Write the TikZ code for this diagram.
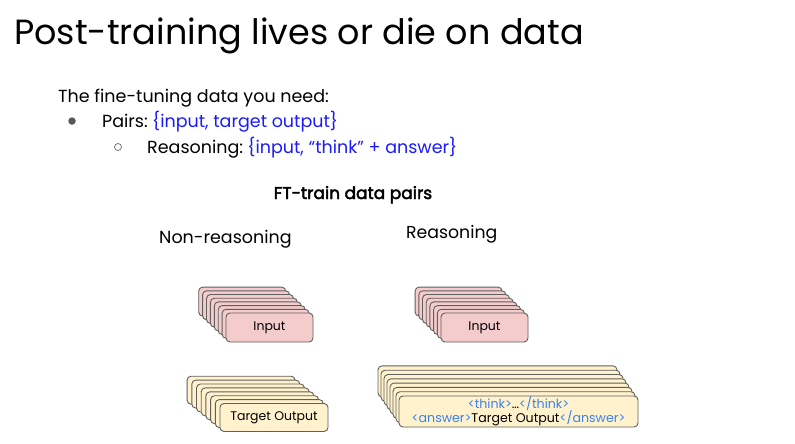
\documentclass[tikz,border=0pt]{standalone}
\usepackage{fontspec}
\setmainfont{Poppins}
\newcommand{\semibold}[1]{\special{pdf:literal direct 2 Tr 0.45 w}#1\special{pdf:literal direct 0 Tr}}
\definecolor{pinkfill}{HTML}{F4CCCC}
\definecolor{yelfill}{HTML}{FFF2CC}
\definecolor{cardline}{HTML}{5F5F5F}
\definecolor{bulletblue}{HTML}{1A1AFF}
\definecolor{tagblue}{HTML}{3C82EB}
\tikzset{
  card/.style={draw=cardline, line width=0.9pt, rounded corners=4pt, inner sep=0pt, font=\fontsize{12.5}{14}\selectfont},
  pinkcard/.style={card, fill=pinkfill},
  yelcard/.style={card, fill=yelfill},
  plain/.style={inner sep=0pt, anchor=base west},
  bodytext/.style={plain, font=\fontsize{17.5}{20}\selectfont},
}
\newcommand{\stackcards}[8]{% #1 prefix, #2 style, #3 cx, #4 cy, #5 w, #6 h, #7 dx, #8 dy
  \foreach \i in {7,6,...,1}{
    \node[#2, minimum width=#5pt, minimum height=#6pt] (#1\i) at ({#3-\i*#7},{#4-\i*#8}) {};
  }
}
\begin{document}
\begin{tikzpicture}[x=1pt,y=-1pt]
\useasboundingbox (0,0) rectangle (795,444);
% title
\node[plain, font=\fontsize{35}{38}\selectfont] (title) at (14,45) {Post-training lives or die on data};
% bullets
\node[bodytext] (intro) at (58,102) {The fine-tuning data you need:};
\node[circle, fill=black!65, minimum size=7.5pt, inner sep=0pt] (b1) at (72,121) {};
\node[bodytext] (pairs) at (102,127) {Pairs:\hspace{0.25em}\textcolor{bulletblue}{\{input, target output\}}};
\node[circle, draw=black!60, line width=0.7pt, minimum size=7pt, inner sep=0pt] (b2) at (118,147) {};
\node[bodytext] (reas) at (147,153) {Reasoning:\hspace{0.25em}\textcolor{bulletblue}{\{input, “think” + answer\}}};
% headings
\node[inner sep=0pt, anchor=base, font=\fontsize{17}{19}\selectfont] (ft) at (353,199) {\semibold{FT-train data pairs}};
\node[plain, font=\fontsize{17.5}{20}\selectfont] (nrh) at (159,243) {Non-reasoning};
\node[plain, font=\fontsize{17.3}{20}\selectfont] (rh) at (406,238) {Reasoning};
% non-reasoning input stack
\stackcards{nri}{pinkcard}{269.5}{327.5}{87}{29}{3.9}{3.7}
\node[pinkcard, minimum width=87pt, minimum height=29pt] (nri0) at (269.5,327.5) {Input};
% reasoning input stack
\stackcards{ri}{pinkcard}{484.5}{327.5}{87}{29}{3.7}{3.7}
\node[pinkcard, minimum width=87pt, minimum height=29pt] (ri0) at (484.5,327.5) {Input};
% non-reasoning target stack
\stackcards{nrt}{yelcard}{274}{417.5}{108}{28}{4.7}{3.9}
\node[yelcard, minimum width=108pt, minimum height=28pt] (nrt0) at (274,417.5) {Target Output};
% reasoning target stack
\stackcards{rt}{yelcard}{518.5}{411.5}{239}{31}{3}{4.3}
\node[yelcard, minimum width=239pt, minimum height=31pt, align=center, font=\fontsize{12.6}{14.5}\selectfont] (rt0) at (518.5,411.5)
  {\textcolor{tagblue}{<think>}…\textcolor{tagblue}{</think>}\\
   \textcolor{tagblue}{<answer>}Target Output\textcolor{tagblue}{</answer>}};
\end{tikzpicture}
\end{document}
